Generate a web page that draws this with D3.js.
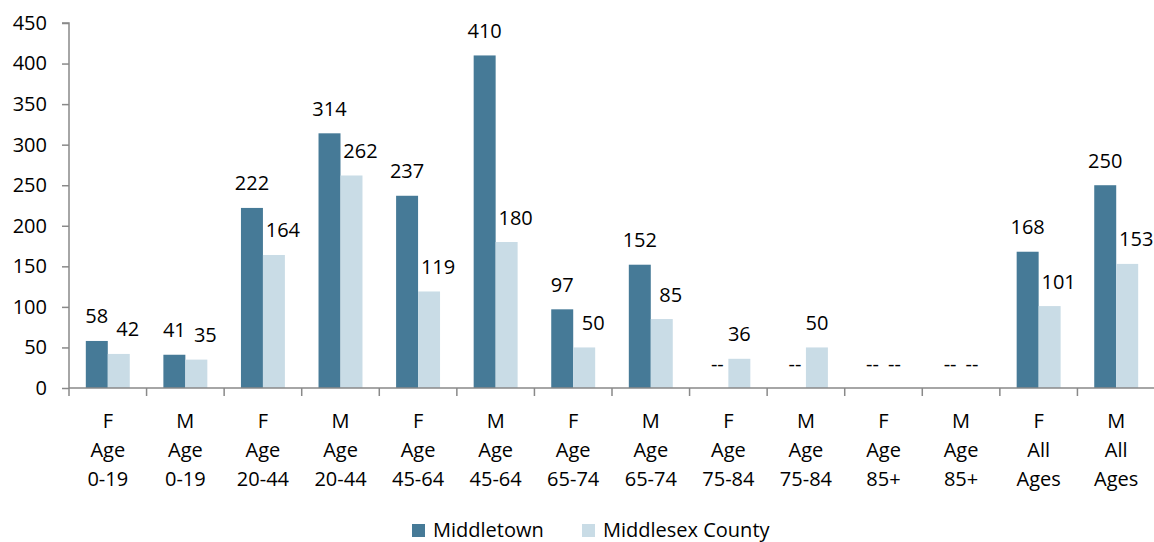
<!DOCTYPE html>
<html>
<head>
<meta charset="utf-8">
<script src="https://cdn.jsdelivr.net/npm/d3@7"></script>
<style>
  html, body { margin: 0; padding: 0; background: #fff; }
  svg { display: block; font-family: "Open Sans", "Liberation Sans", sans-serif; }
</style>
</head>
<body>
<svg id="chart" width="1154" height="542"></svg>
<script>
// Category labels (three lines per group)
const sexes = ["F", "M", "F", "M", "F", "M", "F", "M", "F", "M", "F", "M", "F", "M"];
const groupWord = ["Age", "Age", "Age", "Age", "Age", "Age", "Age", "Age", "Age", "Age", "Age", "Age", "All", "All"];
const ageRanges = ["0-19", "0-19", "20-44", "20-44", "45-64", "45-64", "65-74", "65-74", "75-84", "75-84", "85+", "85+", "Ages", "Ages"];

// Series values (null = not reported, shown as "--")
const seriesNames = ["Middletown", "Middlesex County"];
const middletown = [58, 41, 222, 314, 237, 410, 97, 152, null, null, null, null, 168, 250];
const middlesex = [42, 35, 164, 262, 119, 180, 50, 85, 36, 50, null, null, 101, 153];

// Y axis ticks
const yTicks = [0, 50, 100, 150, 200, 250, 300, 350, 400, 450];

const colors = ["#467a97", "#c9dce6"];
const axisColor = "#898989";

const svg = d3.select("#chart");
const margin = { left: 69, top: 23, right: -1, bottom: 154 };
const width = 1154, height = 542;
const plotBottom = height - margin.bottom; // 388

const idx = d3.range(sexes.length);
const x = d3.scaleBand().domain(idx).range([margin.left, width - margin.right]).paddingInner(0).paddingOuter(0);
const xInner = d3.scaleBand().domain([0, 1]).range([0, x.bandwidth()]).paddingInner(0).paddingOuter(0.765);
const y = d3.scaleLinear().domain([0, 450]).range([plotBottom, margin.top]);

const rows = idx.map(i => ({ i, values: [middletown[i], middlesex[i]] }));

// Bars
const groups = svg.append("g").selectAll("g").data(rows).join("g")
  .attr("transform", d => `translate(${x(d.i)},0)`);

groups.selectAll("rect")
  .data(d => d.values.map((v, s) => ({ v, s })).filter(e => e.v !== null))
  .join("rect")
  .attr("x", e => xInner(e.s))
  .attr("width", xInner.bandwidth())
  .attr("y", e => y(e.v))
  .attr("height", e => y(0) - y(e.v))
  .attr("fill", e => colors[e.s]);

// Value labels; the county label is nudged right when a town label sits beside it
groups.selectAll("text.val")
  .data(d => d.values.map((v, s) => ({ v, s, other: d.values[1 - s] })))
  .join("text")
  .attr("class", "val")
  .attr("x", e => xInner(e.s) + xInner.bandwidth() / 2 + (e.s === 1 && e.other !== null ? 9 : 0))
  .attr("y", e => y(e.v === null ? 0 : e.v) - 17.5)
  .attr("text-anchor", "middle")
  .attr("font-size", 20)
  .attr("fill", "#000")
  .text(e => e.v === null ? "--" : e.v);

// Y axis
const yAxis = d3.axisLeft(y).tickValues(yTicks).tickSize(7).tickPadding(15);
const gy = svg.append("g").attr("transform", `translate(${margin.left},0)`).call(yAxis);
gy.select(".domain").attr("stroke", axisColor).attr("stroke-width", 1.5).attr("d", `M-7,${y(450)}H0V${y(0)}`);
gy.selectAll(".tick line").attr("stroke", axisColor).attr("stroke-width", 1.5);
gy.selectAll(".tick text").attr("font-size", 20).attr("fill", "#000").attr("font-family", "Open Sans");

// X axis line with ticks at category boundaries
const gx = svg.append("g");
gx.append("line")
  .attr("x1", margin.left).attr("x2", width)
  .attr("y1", plotBottom).attr("y2", plotBottom)
  .attr("stroke", axisColor).attr("stroke-width", 1.5);
gx.selectAll("line.bound").data(d3.range(sexes.length + 1)).join("line")
  .attr("class", "bound")
  .attr("x1", i => margin.left + i * x.step()).attr("x2", i => margin.left + i * x.step())
  .attr("y1", plotBottom).attr("y2", plotBottom + 8)
  .attr("stroke", axisColor).attr("stroke-width", 1.5);

// Category labels
const cat = svg.append("g").selectAll("text").data(idx).join("text")
  .attr("text-anchor", "middle")
  .attr("font-size", 20)
  .attr("fill", "#000")
  .attr("transform", i => `translate(${x(i) + x.bandwidth() / 2},0)`);
cat.append("tspan").attr("x", 0).attr("y", 428).text(i => sexes[i]);
cat.append("tspan").attr("x", 0).attr("y", 457).text(i => groupWord[i]);
cat.append("tspan").attr("x", 0).attr("y", 486).text(i => ageRanges[i]);

// Legend
const legendX = [412, 582];
const legend = svg.append("g").selectAll("g").data(seriesNames).join("g")
  .attr("transform", (d, i) => `translate(${legendX[i]},524)`);
legend.append("rect").attr("width", 13).attr("height", 13).attr("fill", (d, i) => colors[i]);
legend.append("text").attr("x", 21).attr("y", 13).attr("font-size", 20).attr("fill", "#000").text(d => d);
</script>
</body>
</html>
